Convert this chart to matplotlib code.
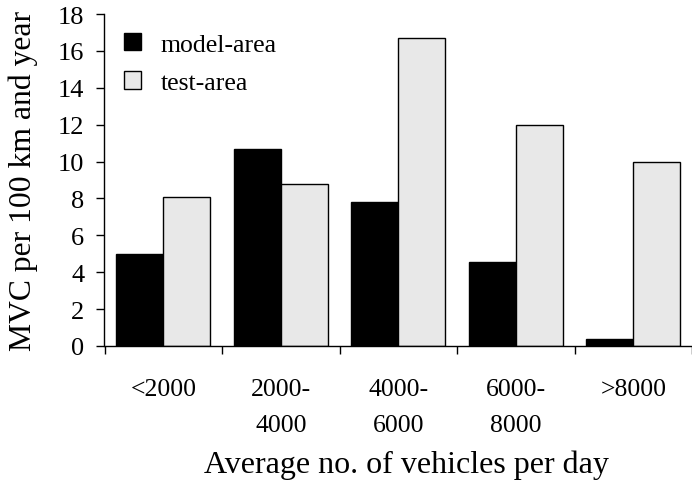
import numpy as np
import matplotlib
matplotlib.use("Agg")
import matplotlib.pyplot as plt

CATEGORIES = ["<2000", "2000-\n4000", "4000-\n6000", "6000-\n8000", ">8000"]
MODEL_AREA = [5.0, 10.7, 7.8, 4.55, 0.4]
TEST_AREA  = [8.1, 8.8, 16.7, 12.0, 10.0]

plt.rcParams["font.family"] = ["Liberation Serif", "DejaVu Serif"]

fig = plt.figure(figsize=(6.92, 4.81), dpi=100)
ax = fig.add_axes([104.5 / 692, 134 / 481, 1 - 104.5 / 692, 332 / 481])

x = np.arange(len(CATEGORIES))
width = 0.40
ax.bar(x - width / 2, MODEL_AREA, width, color="black", edgecolor="black",
       linewidth=1.0, label="model-area")
ax.bar(x + width / 2, TEST_AREA, width, color="#E8E8E8", edgecolor="black",
       linewidth=1.0, label="test-area")

ax.set_xlim(-0.5, 4.433)
ax.set_ylim(0, 18)
ax.set_yticks(np.arange(0, 19, 2))
ax.tick_params(axis="y", labelsize=19, length=5.5, width=1, pad=9)

# boundary ticks without labels, category labels on minor ticks
ax.set_xticks(np.arange(-0.5, 5, 1))
ax.set_xticklabels([])
ax.set_xticks(x, minor=True)
ax.set_xticklabels(CATEGORIES, minor=True, fontsize=18.5, linespacing=1.8)
ax.tick_params(axis="x", which="major", length=5.5, width=1)
ax.tick_params(axis="x", which="minor", length=0, pad=23)

ax.spines[["top", "right"]].set_visible(False)
ax.spines[["left", "bottom"]].set_linewidth(1.0)

ax.set_ylabel("MVC per 100 km and year", fontsize=22.8, labelpad=14)
ax.set_xlabel("Average no. of vehicles per day", fontsize=23, labelpad=10, x=0.514)

ax.legend(loc="upper left", bbox_to_anchor=(4 / 587.5, 0.99), frameon=False,
          fontsize=18.5, handlelength=0.68, handleheight=0.68,
          handletextpad=0.75, labelspacing=0.62, borderaxespad=0.0,
          borderpad=0.6)

fig.savefig("out.png", dpi=100)
